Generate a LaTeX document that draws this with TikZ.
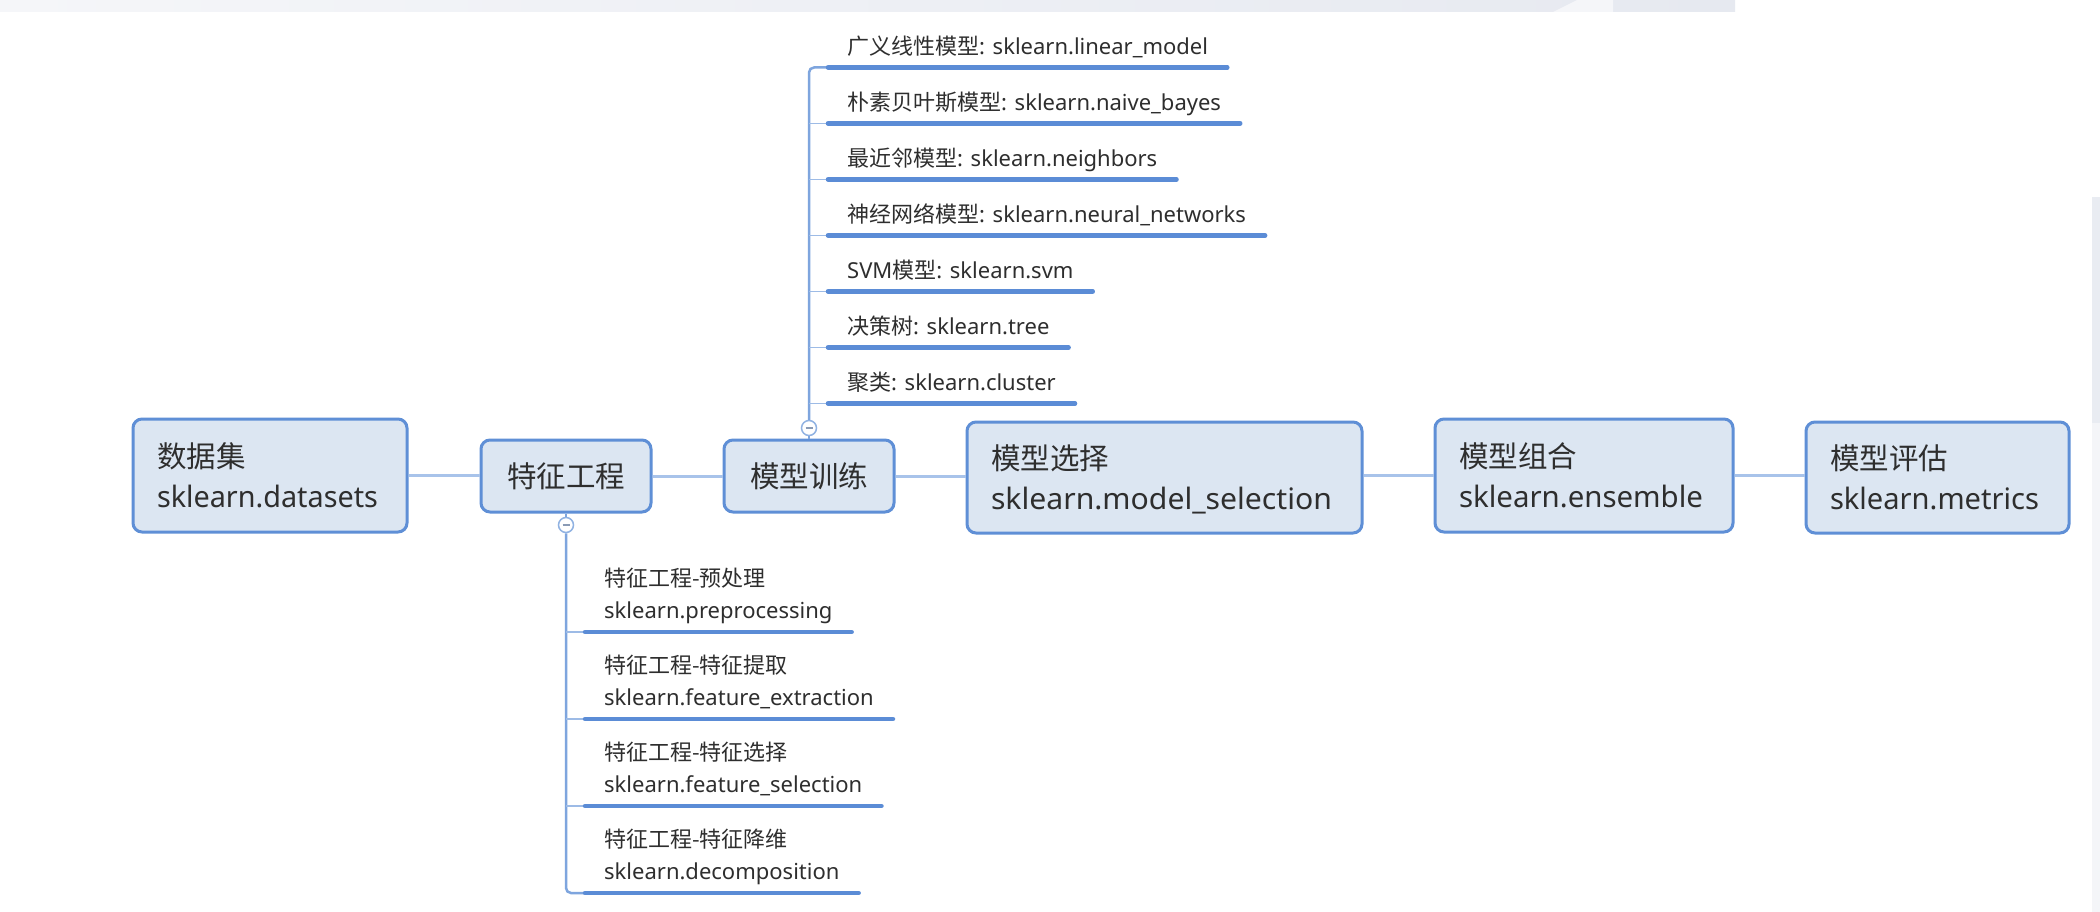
\documentclass[tikz,border=0pt]{standalone}
\usepackage{graphicx}
\usepackage{fontspec}
\setmainfont{Noto Sans}
\newfontfamily\cjkfont{Noto Sans CJK SC}
\newcommand\zh[1]{{\cjkfont #1}}
\newcommand\fitto[2]{\resizebox{#1}{\height}{#2}}
\definecolor{boxborder}{HTML}{5F8FD6}
\definecolor{boxfill}{HTML}{DCE6F2}
\definecolor{linkblue}{HTML}{A8C3EA}
\definecolor{trunkblue}{HTML}{7EA5DE}
\definecolor{twigblue}{HTML}{9DBBE6}
\definecolor{ulblue}{HTML}{5B8CD6}
\definecolor{txt}{HTML}{2E2E2E}
\definecolor{circblue}{HTML}{90B2E2}
\definecolor{minusgray}{HTML}{8A9BB5}
\definecolor{bandA}{HTML}{F5F6F9}
\definecolor{bandB}{HTML}{E6E9F0}
\definecolor{stripA}{HTML}{E9ECF2}
\definecolor{stripB}{HTML}{F4F5F8}
\begin{document}
\begin{tikzpicture}[x=1pt,y=-1pt,
  boxbase/.style={draw=boxborder, fill=boxfill, line width=3pt, rounded corners=9pt,
    inner xsep=24pt, inner ysep=0pt, text=txt, font=\fontsize{29.5}{40}\selectfont},
  mainbox/.style={boxbase, align=left, text height=26pt, text depth=43pt},
  smallbox/.style={boxbase, align=center, text height=26pt, text depth=4pt},
  branch/.style={anchor=south west, inner xsep=19pt, inner ysep=8.5pt, text=txt,
    font=\fontsize{22}{32}\selectfont, align=left, text height=17.6pt, text depth=4.4pt},
  link/.style={draw=linkblue, line width=3pt},
  trunk/.style={draw=trunkblue, line width=2.5pt},
  twig/.style={draw=twigblue, line width=1.6pt},
  uline/.style={draw=ulblue, line width=4.5pt, line cap=round},
  fold/.style={circle, draw=circblue, line width=1.5pt, fill=white, minimum size=15pt, inner sep=0pt},
  minus/.style={draw=minusgray, line width=1.5pt}
]
\useasboundingbox (0,0) rectangle (2100,912);
\fill[white] (0,0) rectangle (2100,912);
% screenshot edges
\shade[left color=bandA, right color=bandB] (0,0) rectangle (1735,12);
\fill[bandA] (1553,12) -- (1577,0) -- (1613,0) -- (1613,12) -- cycle;
\fill[stripA] (2092,197) rectangle (2100,423);
\fill[stripB] (2092,423) rectangle (2100,912);

% main boxes
\node[mainbox, minimum width=274pt, minimum height=113pt, text width=226pt] (ds) at (270,475.5) {\zh{数据集}\\\fitto{221pt}{sklearn.datasets}};
\node[smallbox, minimum width=170pt, minimum height=72pt, text width=122pt] (fe) at (566,476) {\zh{特征工程}};
\node[smallbox, minimum width=170pt, minimum height=72pt, text width=122pt] (mt) at (809,476) {\zh{模型训练}};
\node[mainbox, minimum width=395pt, minimum height=111pt, text width=347pt] (ms) at (1164.5,477.5) {\zh{模型选择}\\\fitto{341pt}{sklearn.model\_selection}};
\node[mainbox, minimum width=298pt, minimum height=113pt, text width=250pt] (me) at (1584,475.5) {\zh{模型组合}\\\fitto{244pt}{sklearn.ensemble}};
\node[mainbox, minimum width=263pt, minimum height=111pt, text width=215pt] (mv) at (1937.5,477.5) {\zh{模型评估}\\\fitto{209pt}{sklearn.metrics}};

% main links
\draw[link] (ds.east) -- (fe.west |- ds.east);
\draw[link] (fe.east) -- (mt.west);
\draw[link] (mt.east) -- (ms.west |- mt.east);
\draw[link] (ms.east |- me.west) -- (me.west);
\draw[link] (me.east) -- (mv.west |- me.east);

% fold circles
\node[fold] (c1) at (566,525) {};
\node[fold] (c2) at (809,428) {};
\draw[trunk] (fe.south) -- (c1.north);
\draw[trunk] (mt.north) -- (c2.south);

% top branches
\node[branch] (t1) at (828,67.5)  {\zh{广义线性模型}: sklearn.linear\_model};
\node[branch] (t2) at (828,123.5) {\zh{朴素贝叶斯模型}: sklearn.naive\_bayes};
\node[branch] (t3) at (828,179.5) {\zh{最近邻模型}: sklearn.neighbors};
\node[branch] (t4) at (828,235.5) {\zh{神经网络模型}: sklearn.neural\_networks};
\node[branch] (t5) at (828,291.5) {SVM\zh{模型}: sklearn.svm};
\node[branch] (t6) at (828,347.5) {\zh{决策树}: sklearn.tree};
\node[branch] (t7) at (828,403.5) {\zh{聚类}: sklearn.cluster};

\draw[trunk, rounded corners=5pt] (c2.north) |- (t1.south west);
\foreach \n in {t2,t3,t4,t5,t6,t7}{
  \draw[twig] (c2 |- \n.south west) -- (\n.south west);
}
\foreach \n in {t1,t2,t3,t4,t5,t6,t7}{
  \draw[uline] (\n.south west) -- (\n.south east);
}

% bottom branches
\node[branch] (f1) at (585,632) {\zh{特征工程-预处理}\\sklearn.preprocessing};
\node[branch] (f2) at (585,719) {\zh{特征工程-特征提取}\\sklearn.feature\_extraction};
\node[branch] (f3) at (585,806) {\zh{特征工程-特征选择}\\sklearn.feature\_selection};
\node[branch] (f4) at (585,893) {\zh{特征工程-特征降维}\\sklearn.decomposition};

\draw[trunk, rounded corners=5pt] (c1.south) |- (f4.south west);
\foreach \n in {f1,f2,f3}{
  \draw[twig] (c1 |- \n.south west) -- (\n.south west);
}
\foreach \n in {f1,f2,f3,f4}{
  \draw[uline] (\n.south west) -- (\n.south east);
}

% minus signs
\draw[minus] ([xshift=-3.5pt]c1.center) -- ([xshift=3.5pt]c1.center);
\draw[minus] ([xshift=-3.5pt]c2.center) -- ([xshift=3.5pt]c2.center);
\end{tikzpicture}
\end{document}
